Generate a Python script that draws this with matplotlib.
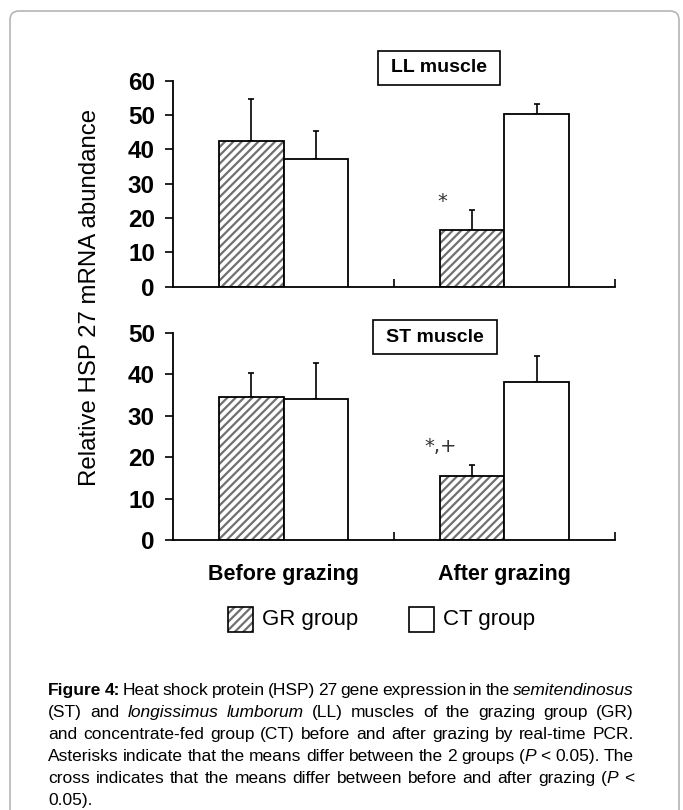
import matplotlib
matplotlib.use("Agg")
import matplotlib.pyplot as plt
from matplotlib import font_manager
from matplotlib.patches import Rectangle, FancyBboxPatch
from matplotlib.transforms import IdentityTransform, blended_transform_factory

# ---- data ----
groups = ["Before grazing", "After grazing"]
ll_gr = [42.3, 16.4]
ll_gr_err = [12.4, 5.8]
ll_ct = [37.3, 50.3]
ll_ct_err = [8.0, 2.9]
st_gr = [34.6, 15.5]
st_gr_err = [5.7, 2.5]
st_ct = [34.0, 38.1]
st_ct_err = [8.8, 6.3]
ll_ticks = [0, 10, 20, 30, 40, 50, 60]
st_ticks = [0, 10, 20, 30, 40, 50]
ll_mark = ("*", 0.72, 24.8)
st_mark = ("*,+", 0.71, 22.5)

W, H = 683, 810


def has_font(name):
    try:
        font_manager.findfont(font_manager.FontProperties(family=name), fallback_to_default=False)
        return True
    except Exception:
        return False


ARIAL = "Liberation Sans"
NARROW = "Liberation Sans Narrow" if has_font("Liberation Sans Narrow") else "Liberation Sans"
plt.rcParams["font.family"] = [ARIAL, "DejaVu Sans"]
plt.rcParams["hatch.linewidth"] = 1.6


def fx(px):
    return px / W


def fy(py):
    return 1 - py / H


fig = plt.figure(figsize=(W / 100, H / 100), dpi=100)

# rounded frame
fig.add_artist(FancyBboxPatch((10, -30), 669, 829, boxstyle="round,pad=0,rounding_size=9",
                              transform=IdentityTransform(), ec="#b5b5b5", fc="none", lw=1.2))

HATCH = "////"
HATCH_COL = "#707070"


def panel(rect, gr, gr_err, ct, ct_err, ticks, mark):
    ax = fig.add_axes(rect)
    x = range(len(groups))
    bw = 0.29
    xg = [i - bw / 2 for i in x]
    xc = [i + bw / 2 for i in x]
    ax.errorbar(xg, gr, yerr=[[0] * len(gr), gr_err], fmt="none", ecolor="black",
                elinewidth=1.2, capsize=2.3, capthick=1.2, zorder=1)
    ax.errorbar(xc, ct, yerr=[[0] * len(ct), ct_err], fmt="none", ecolor="black",
                elinewidth=1.2, capsize=2.3, capthick=1.2, zorder=1)
    ax.bar(xg, gr, bw, color="white", edgecolor=HATCH_COL, hatch=HATCH, linewidth=0, zorder=2)
    ax.bar(xg, gr, bw, color="none", edgecolor="black", linewidth=1.3, zorder=3)
    ax.bar(xc, ct, bw, color="white", edgecolor="black", linewidth=1.3, zorder=3)
    ax.set_xlim(-0.5, 1.5)
    ax.set_ylim(ticks[0], ticks[-1])
    ax.set_yticks(ticks)
    ax.set_yticklabels([str(t) for t in ticks], fontsize=17.5, fontweight="bold")
    ax.set_xticks([0.5, 1.5])
    ax.tick_params(axis="x", direction="in", length=6, width=1.2, labelbottom=False)
    ax.tick_params(axis="y", direction="out", length=6, width=1.2, pad=7)
    for s in ["top", "right"]:
        ax.spines[s].set_visible(False)
    for s in ["left", "bottom"]:
        ax.spines[s].set_linewidth(1.3)
    ax.text(mark[1], mark[2], mark[0], fontsize=14, color="#333333", ha="center", va="center",
            family="DejaVu Sans")
    return ax


ax1 = panel([fx(173), fy(286.7), fx(442) - fx(0), 206 / H], ll_gr, ll_gr_err, ll_ct, ll_ct_err,
            ll_ticks, ll_mark)
ax2 = panel([fx(173), fy(540), fx(442) - fx(0), 207.3 / H], st_gr, st_gr_err, st_ct, st_ct_err,
            st_ticks, st_mark)

trans = blended_transform_factory(ax2.transData, ax2.transAxes)
for i, g in enumerate(groups):
    ax2.text(i, -0.165, g, transform=trans, ha="center", va="center", fontsize=15.5,
             fontweight="bold")

# panel labels
for (x0, y0, x1, y1, lab) in [(377.6, 50.7, 499.6, 85, "LL muscle"), (373, 320, 496.5, 354.3, "ST muscle")]:
    fig.add_artist(Rectangle((fx(x0), fy(y1)), fx(x1) - fx(x0), fy(y0) - fy(y1),
                             transform=fig.transFigure, fc="white", ec="black", lw=1.2))
    fig.text(fx((x0 + x1) / 2), fy((y0 + y1) / 2), lab, ha="center", va="center",
             fontsize=14, fontweight="bold")

fig.text(fx(90), fy(297), "Relative HSP 27 mRNA abundance", rotation=90, ha="center",
         va="center", fontsize=17.3)

# legend
fig.add_artist(Rectangle((fx(228), fy(632)), fx(25), 25 / H, transform=fig.transFigure,
                         fc="white", ec=HATCH_COL, hatch=HATCH, lw=0))
fig.add_artist(Rectangle((fx(228), fy(632)), fx(25), 25 / H, transform=fig.transFigure,
                         fc="none", ec="black", lw=1.2))
fig.add_artist(Rectangle((fx(408.5), fy(632)), fx(25), 25 / H, transform=fig.transFigure,
                         fc="white", ec="black", lw=1.2))
fig.text(fx(262), fy(620), "GR group", ha="left", va="center", fontsize=16, family=NARROW)
fig.text(fx(443), fy(620), "CT group", ha="left", va="center", fontsize=16, family=NARROW)

# caption, justified line by line
caption = [
    [("Figure 4:", "b"), (" Heat shock protein (HSP) 27 gene expression in the ", "n"), ("semitendinosus", "i")],
    [("(ST) and ", "n"), ("longissimus lumborum", "i"), (" (LL) muscles of the grazing group (GR)", "n")],
    [("and concentrate-fed group (CT) before and after grazing by real-time PCR.", "n")],
    [("Asterisks indicate that the means differ between the 2 groups (", "n"), ("P", "i"), (" < 0.05). The", "n")],
    [("cross indicates that the means differ between before and after grazing (", "n"), ("P", "i"), (" <", "n")],
    [("0.05).", "n")],
]

renderer = fig.canvas.get_renderer()
cap_size = 12.5
left, right = 48, 634


def split_words(segs):
    words, cur = [], []
    for text, st in segs:
        parts = text.split(" ")
        for i, p in enumerate(parts):
            if i > 0 and cur:
                words.append(cur)
                cur = []
            if p:
                cur.append((p, st))
    if cur:
        words.append(cur)
    return words


for li, segs in enumerate(caption):
    base = 695 + li * 22
    words = split_words(segs)
    placed = []
    widths = []
    for w in words:
        items = []
        tot = 0
        for p, st in w:
            t = fig.text(0, fy(base), p, fontsize=cap_size, family=NARROW, va="baseline",
                         fontweight="bold" if st == "b" else "normal",
                         fontstyle="italic" if st == "i" else "normal")
            wd = t.get_window_extent(renderer).width
            items.append((t, tot))
            tot += wd
        placed.append(items)
        widths.append(tot)
    if li < len(caption) - 1 and len(words) > 1:
        gap = (right - left - sum(widths)) / (len(words) - 1)
    else:
        gap = cap_size * 1.389 * 0.25
    x = left
    for items, wd in zip(placed, widths):
        for t, off in items:
            t.set_x(fx(x + off))
        x += wd + gap

fig.savefig("out.png", dpi=100)
